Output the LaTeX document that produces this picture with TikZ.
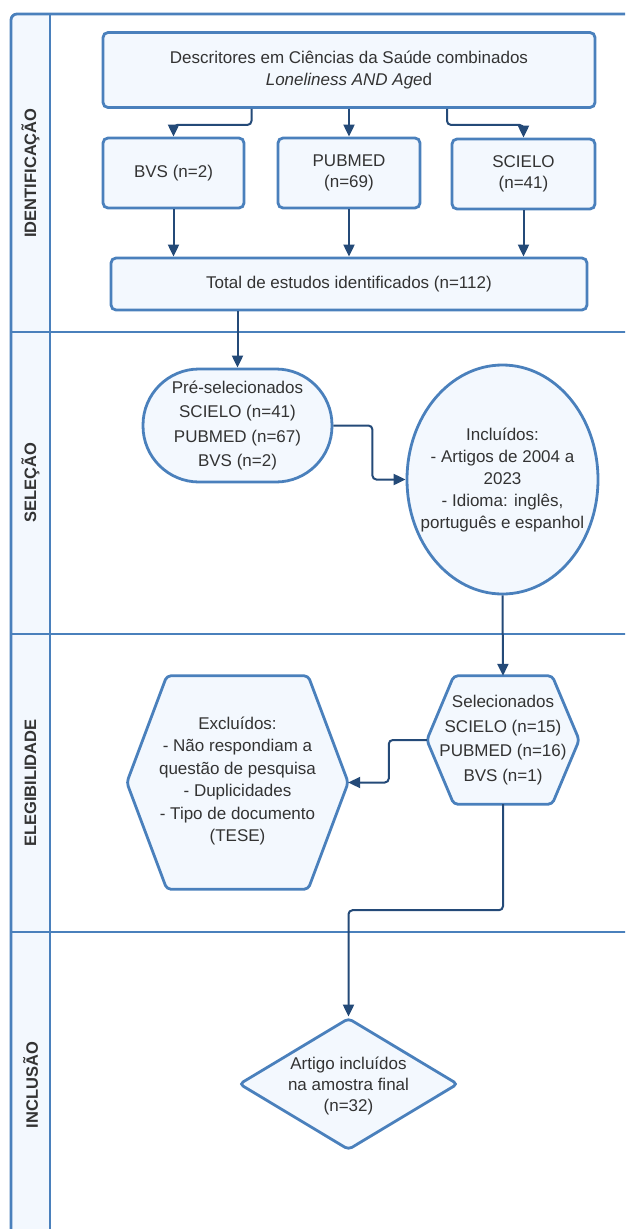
\documentclass[tikz,border=0pt]{standalone}
\usepackage{fontspec}
\setmainfont{Liberation Sans}
\usetikzlibrary{arrows.meta,shapes.geometric,calc}
\definecolor{boxblue}{HTML}{4A80BC}
\definecolor{boxfill}{HTML}{F3F8FE}
\definecolor{arrowblue}{HTML}{244A78}
\definecolor{txt}{HTML}{333333}
\newcommand{\nodefont}{\fontsize{17}{21.5}\selectfont}
\tikzset{
  lane/.style={draw=boxblue, line width=2.8pt},
  box/.style={draw=boxblue, line width=2.8pt, fill=boxfill, rounded corners=5pt,
    text=txt, align=center, inner sep=0pt, font=\nodefont},
  shapebox/.style={draw=boxblue, line width=2.8pt, fill=boxfill, inner sep=0pt},
  hexline/.style={draw=boxblue, line width=2.8pt, fill=boxfill, rounded corners=4pt, line join=round},
  frame/.style={rectangle, inner sep=0pt},
  label/.style={text=txt, align=center, font=\nodefont, inner sep=0pt},
  lanelabel/.style={rotate=90, text=txt, font=\fontsize{16.5}{20}\selectfont\bfseries, inner sep=0pt},
  conn/.style={draw=arrowblue, line width=2pt, rounded corners=4pt,
    -{Triangle[length=12pt,width=11pt]}}
}
\begin{document}
\begin{tikzpicture}[x=1pt,y=-1pt]
\useasboundingbox (0,0) rectangle (625,1229);
\clip (0,0) rectangle (625,1229);
% swimlanes
\fill[boxfill, rounded corners=6pt] (11,1245) -- (11,14) -- (50,14) -- (50,1245) -- cycle;
\draw[lane, rounded corners=6pt] (11,1245) -- (11,14) -- (640,14);
\draw[lane] (50,14) -- (50,1245);
\draw[lane] (11,332) -- (640,332);
\draw[lane] (11,634) -- (640,634);
\draw[lane] (11,932) -- (640,932);
\node[lanelabel] (l1) at (30.5,173) {IDENTIFICAÇÃO};
\node[lanelabel] (l2) at (30.5,483) {SELEÇÃO};
\node[lanelabel] (l3) at (30.5,783) {ELEGIBILIDADE};
\node[lanelabel] (l4) at (30.5,1085) {INCLUSÃO};

% identification
\node[box, minimum width=492pt, minimum height=75pt] (desc) at (349,70)
  {Descritores em Ciências da Saúde combinados\\\textit{Loneliness AND Age}d};
\node[box, minimum width=141pt, minimum height=70pt] (bvs) at (173.5,173) {BVS (n=2)};
\node[box, minimum width=142pt, minimum height=70pt] (pub) at (349,173) {PUBMED\\(n=69)};
\node[box, minimum width=143pt, minimum height=70pt] (sci) at (523.5,174) {SCIELO\\(n=41)};
\node[box, minimum width=476pt, minimum height=52pt] (total) at (349,284)
  {Total de estudos identificados (n=112)};

% selection
\node[box, rounded corners=56pt, minimum width=189pt, minimum height=113pt,
  font=\fontsize{17}{24.5}\selectfont] (pre) at (237.5,425.5)
  {Pré-selecionados\\SCIELO (n=41)\\PUBMED (n=67)\\BVS (n=2)};
\node[shapebox, ellipse, minimum width=191pt, minimum height=229pt] (inc) at (502.5,479.5) {};
\node[label, font=\fontsize{17}{22}\selectfont] (inct) at (502.5,480)
  {Incluídos:\\- Artigos de 2004 a\\2023\\- Idioma: inglês,\\português e espanhol};

% eligibility
\node[frame, minimum width=152pt, minimum height=128pt] (sel) at (503,740) {};
\draw[hexline] (sel.west) -- ([xshift=27pt]sel.north west) -- ([xshift=-27pt]sel.north east)
  -- (sel.east) -- ([xshift=-27pt]sel.south east) -- ([xshift=27pt]sel.south west) -- cycle;
\node[label, font=\fontsize{17}{24.5}\selectfont] (selt) at (503,740)
  {Selecionados\\SCIELO (n=15)\\PUBMED (n=16)\\BVS (n=1)};
\node[frame, minimum width=221pt, minimum height=213pt] (exc) at (237.5,782.5) {};
\draw[hexline] (exc.west) -- ([xshift=40pt]exc.north west) -- ([xshift=-40pt]exc.north east)
  -- (exc.east) -- ([xshift=-40pt]exc.south east) -- ([xshift=40pt]exc.south west) -- cycle;
\node[label, font=\fontsize{17}{22.5}\selectfont] (exct) at (237.5,781)
  {Excluídos:\\- Não respondiam a\\questão de pesquisa\\- Duplicidades\\- Tipo de documento\\(TESE)};

% inclusion
\node[shapebox, diamond, rounded corners=4pt, minimum width=219pt, minimum height=132pt] (fin) at (348.5,1084) {};
\node[label, font=\fontsize{17}{21}\selectfont] (fint) at (348.5,1086)
  {Artigo incluídos\\na amostra final\\(n=32)};

% connectors
\draw[conn] ([xshift=-97.5pt]desc.south) -- ++(0,16) -| (bvs.north);
\draw[conn] (desc.south) -- (pub.north);
\draw[conn] ([xshift=98pt]desc.south) -- ++(0,16) -| (sci.north);
\draw[conn] (bvs.south) -- (bvs.south |- total.north);
\draw[conn] (pub.south) -- (pub.south |- total.north);
\draw[conn] (sci.south) -- (sci.south |- total.north);
\draw[conn] (total.south -| pre.north) -- (pre.north);
\draw[conn] (pre.east) -- ++(39,0) |- (inc.west);
\draw[conn] (inc.south) -- (sel.north);
\draw[conn] (sel.west) -- ++(-38,0) |- (exc.east);
\draw[conn] (sel.south) -- ++(0,106) -| (fin.north);
\end{tikzpicture}
\end{document}
